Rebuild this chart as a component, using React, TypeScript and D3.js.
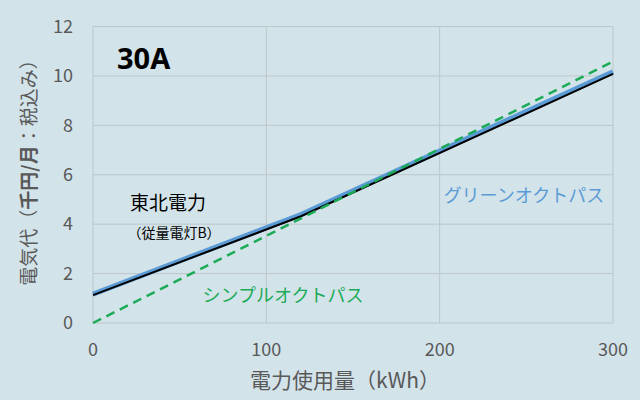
import * as d3 from 'd3';

const W = 640;
const H = 400;
const MARGIN = { left: 93, right: 27, top: 26.5, bottom: 77 };

// kWh
const usage = [0, 120, 300];
const tohokuCost = [1.13, 4.32, 10.08];
const greenCost = [1.17, 4.39, 10.17];
const simpleUsage = [0, 300];
const simpleCost = [0, 10.58];

const xTicks = [0, 100, 200, 300];
const yTicks = [0, 2, 4, 6, 8, 10, 12];

const BG = '#d3e3ea';
const GRID = '#bcc6cb';
const AXIS_TEXT = '#595959';
const BLUE = '#5b9bd5';
const GREEN = '#1bab57';
const FONT = '"Noto Sans CJK JP", "Noto Sans", sans-serif';

export default function App() {
  const x = d3.scaleLinear().domain([0, 300]).range([MARGIN.left, W - MARGIN.right]);
  const y = d3.scaleLinear().domain([0, 12]).range([H - MARGIN.bottom, MARGIN.top]);

  const line = d3
    .line<[number, number]>()
    .x((d) => x(d[0]))
    .y((d) => y(d[1]));

  const tohoku = line(usage.map((u, i) => [u, tohokuCost[i]]));
  const green = line(usage.map((u, i) => [u, greenCost[i]]));
  const simple = line(simpleUsage.map((u, i) => [u, simpleCost[i]]));

  return (
    <svg
      width={W}
      height={H}
      style={{ position: 'absolute', left: 0, top: 0, display: 'block' }}
      fontFamily={FONT}
    >
      <rect width={W} height={H} fill={BG} />

      {/* grid */}
      {yTicks.map((t) => (
        <line key={'gy' + t} x1={x(0)} x2={x(300)} y1={y(t)} y2={y(t)} stroke={GRID} strokeWidth={1} />
      ))}
      {xTicks.map((t) => (
        <line key={'gx' + t} x1={x(t)} x2={x(t)} y1={y(0)} y2={y(12)} stroke={GRID} strokeWidth={1} />
      ))}

      {/* tick labels */}
      {yTicks.map((t) => (
        <text key={'ty' + t} x={73} y={y(t)} dy="0.35em" textAnchor="end" fontSize={18} fill={AXIS_TEXT}>
          {t}
        </text>
      ))}
      {xTicks.map((t) => (
        <text key={'tx' + t} x={x(t)} y={350} dy="0.35em" textAnchor="middle" fontSize={18} fill={AXIS_TEXT}>
          {t}
        </text>
      ))}

      {/* series */}
      <path d={green!} fill="none" stroke={BLUE} strokeWidth={5} />
      <path d={tohoku!} fill="none" stroke="#000" strokeWidth={2} />
      <path d={simple!} fill="none" stroke={GREEN} strokeWidth={2.5} strokeDasharray="9,6" />

      {/* annotations */}
      <text x={117} y={59} dy="0.35em" fontSize={29} fontWeight="bold" fill="#000" fontFamily='"Noto Sans", sans-serif'>
        30A
      </text>
      <text x={168} y={203} dy="0.35em" textAnchor="middle" fontSize={19} fill="#000">
        東北電力
      </text>
      <text x={174} y={233} dy="0.35em" textAnchor="middle" fontSize={14} fill="#000">
        （従量電灯B）
      </text>
      <text x={524} y={196} dy="0.35em" textAnchor="middle" fontSize={18} fill={BLUE}>
        グリーンオクトパス
      </text>
      <text x={283} y={296} dy="0.35em" textAnchor="middle" fontSize={18} fill={GREEN}>
        シンプルオクトパス
      </text>

      {/* axis titles */}
      <text x={345} y={381} dy="0.35em" textAnchor="middle" fontSize={21} fill={AXIS_TEXT}>
        電力使用量（kWh）
      </text>
      <text
        transform={`translate(29,168) rotate(-90)`}
        dy="0.35em"
        textAnchor="middle"
        fontSize={19}
        fill={AXIS_TEXT}
      >
        電気代（<tspan fontWeight="bold">千円/月</tspan>：税込み）
      </text>
    </svg>
  );
}
